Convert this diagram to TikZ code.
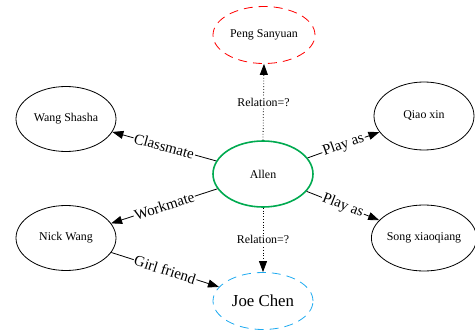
\documentclass[tikz,border=0pt]{standalone}
\usepackage{fontspec}
\setmainfont{Liberation Serif}
\usetikzlibrary{shapes.geometric,arrows.meta}
\definecolor{allengreen}{RGB}{0,170,80}
\definecolor{joeblue}{RGB}{30,170,240}
\tikzset{
  person/.style={ellipse,draw,line width=0.8pt,inner sep=0pt,minimum width=100pt,minimum height=65pt,font=\fontsize{11.9}{14}\selectfont},
  rel/.style={draw,line width=0.8pt,-{Triangle[length=11pt,width=8pt]}},
  unknown/.style={rel,dotted},
  elabel/.style={fill=white,inner sep=1pt,sloped,font=\fontsize{15}{17}\selectfont},
  qlabel/.style={fill=white,inner sep=1.5pt,font=\fontsize{11.9}{14}\selectfont}
}
\begin{document}
\begin{tikzpicture}[x=1pt,y=-1pt]
\useasboundingbox (0,0) rectangle (475,332);
\node[person,draw=allengreen,line width=1.6pt,minimum height=66pt] (allen) at (263,174) {Allen};
\node[person,draw=red,dash pattern=on 9pt off 6pt,minimum width=102pt,minimum height=57pt] (peng) at (264,35) {Peng Sanyuan};
\node[person] (wang) at (66,119) {Wang Shasha};
\node[person,minimum height=68pt] (qiao) at (424,116) {Qiao xin};
\node[person,minimum height=66pt] (song) at (424,238) {Song xiaoqiang};
\node[person] (nick) at (66,238) {Nick Wang};
\node[person,draw=joeblue,dash pattern=on 9pt off 6pt,minimum height=57pt,font=\fontsize{16.8}{19}\selectfont] (joe) at (263,301) {Joe Chen};
\draw[rel] (allen) -- node[elabel] {Classmate} (wang);
\draw[rel] (allen) -- node[elabel] {Workmate} (nick);
\draw[rel] (allen) -- node[elabel] {Play as} (qiao);
\draw[rel] (allen) -- node[elabel] {Play as} (song);
\draw[rel] (nick) -- node[elabel] {Girl friend} (joe);
\draw[unknown] (allen.north) -- node[qlabel] {Relation=?} (peng.south);
\draw[unknown] (allen.south) -- node[qlabel] {Relation=?} (joe.north);
\end{tikzpicture}
\end{document}
